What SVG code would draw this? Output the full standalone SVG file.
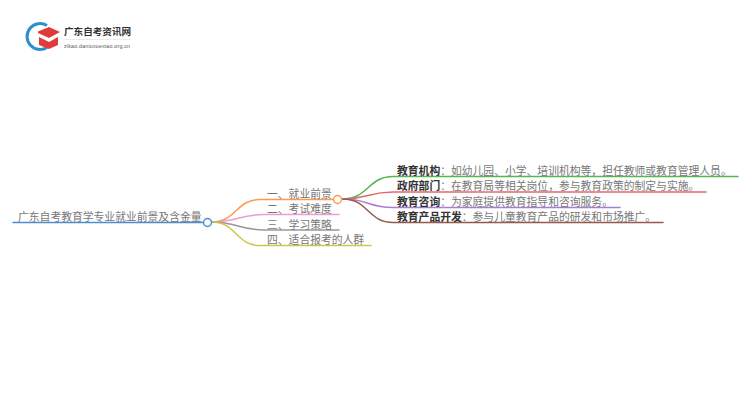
<svg xmlns="http://www.w3.org/2000/svg" width="750" height="410" viewBox="0 0 750 410">
<style>
text{font-family:"Noto Sans CJK SC","Liberation Sans",sans-serif;fill:#777}
.l{font-size:10.800px}
.b{font-weight:700;fill:#333}
.c{fill:none;stroke-width:1.5;stroke-linecap:round}
</style>
<rect width="750" height="410" fill="#fff"/>
<g id="logo">
<path d="M47 25.500A13 13 0 1 0 47 47.500" fill="none" stroke="#2c8fd0" stroke-width="3"/>
<path d="M39 37V45L49 49L58 45V37L49 42Z" fill="#e03a3a"/>
<path d="M38 31.500L49 27L60 32L49 38L38 33Z" fill="#e03a3a"/>
<text x="64" y="35" font-size="9.600" font-weight="700" style="fill:#333">广东自考资讯网</text>
<line x1="63" y1="39.500" x2="131" y2="39.500" stroke="#ddd" stroke-width=".6"/>
<text x="64" y="48" font-size="5.300" style="font-family:'Liberation Sans',sans-serif;fill:#555" letter-spacing=".2">zikao.daniuxuexiao.org.cn</text>
</g>
<g id="connectors">
<path class="c" stroke="#4a90d0" d="M13 222.500H203"/>
<path class="c" stroke="#ff9a4d" d="M212 222C236 222 236 199.500 260 199.500H333"/>
<path class="c" stroke="#ee9ad6" d="M212 222C236 222 240 214.500 264 214.500H339"/>
<path class="c" stroke="#999" d="M212 222C236 222 240 230 264 230H339"/>
<path class="c" stroke="#c9c84a" d="M212 222C236 222 236 245.500 260 245.500H371"/>
<path class="c" stroke="#52b84f" d="M343 199C368 199 368 176.500 393 176.500H738"/>
<path class="c" stroke="#e06a6a" d="M343 199C368 199 368 192 393 192H706"/>
<path class="c" stroke="#a97cd6" d="M343 199C368 199 368 207.500 393 207.500H620"/>
<path class="c" stroke="#96594d" d="M343 199C368 199 368 222.500 393 222.500H663"/>
</g>
<g id="root"><text x="18" y="221" class="l">广东自考教育学专业就业前景及含金量</text><circle cx="207.500" cy="222.500" r="4" fill="#fff" stroke="#4a90d0" stroke-width="1.500"/></g>
<g id="n1"><text x="267" y="197.500" class="l">一、就业前景</text><circle cx="337.500" cy="199.500" r="4" fill="#fff" stroke="#ff9a4d" stroke-width="1.500"/></g>
<g id="n2"><text x="267" y="213" class="l">二、考试难度</text></g>
<g id="n3"><text x="267" y="228.500" class="l">三、学习策略</text></g>
<g id="n4"><text x="267" y="244" class="l">四、适合报考的人群</text></g>
<g id="a1"><text x="397" y="174.500" class="l"><tspan class="b">教育机构</tspan>：如幼儿园、小学、培训机构等，担任教师或教育管理人员。</text></g>
<g id="a2"><text x="397" y="190" class="l"><tspan class="b">政府部门</tspan>：在教育局等相关岗位，参与教育政策的制定与实施。</text></g>
<g id="a3"><text x="397" y="205.500" class="l"><tspan class="b">教育咨询</tspan>：为家庭提供教育指导和咨询服务。</text></g>
<g id="a4"><text x="397" y="221" class="l"><tspan class="b">教育产品开发</tspan>：参与儿童教育产品的研发和市场推广。</text></g>
</svg>
